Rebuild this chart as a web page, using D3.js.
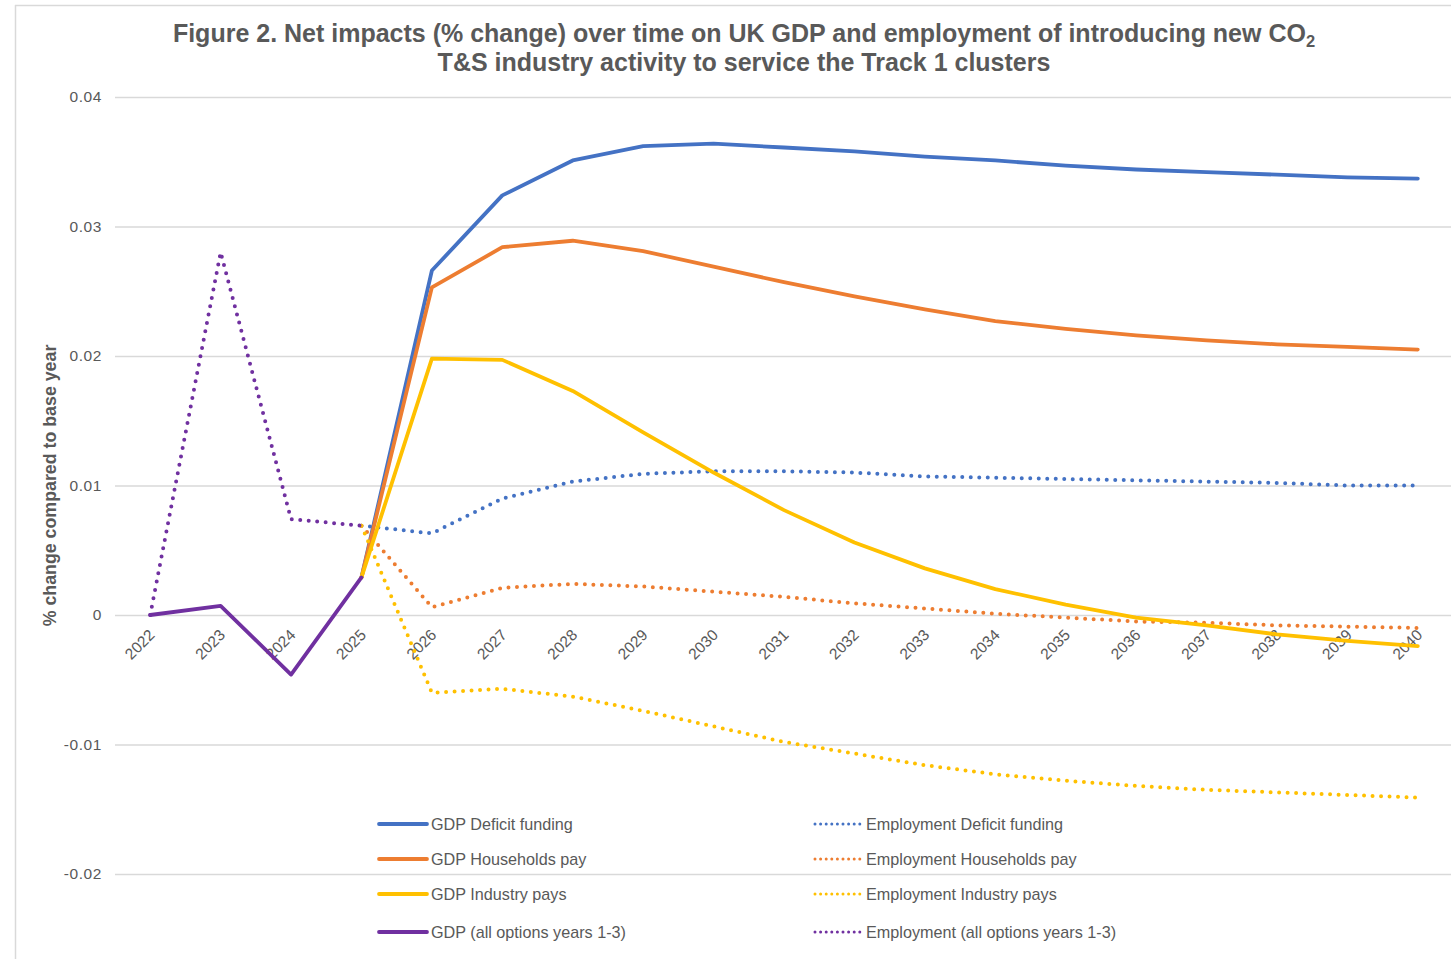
<!DOCTYPE html>
<html>
<head>
<meta charset="utf-8">
<script src="https://cdn.jsdelivr.net/npm/d3@7"></script>
<style>
  html, body { margin: 0; padding: 0; background: #ffffff; }
  svg { display: block; font-family: "Liberation Sans", Arial, sans-serif; }
</style>
</head>
<body>
<svg id="chart" width="1451" height="959"></svg>
<script>
// Years on the category axis
const years = [2022, 2023, 2024, 2025, 2026, 2027, 2028, 2029, 2030, 2031,
               2032, 2033, 2034, 2035, 2036, 2037, 2038, 2039, 2040];

// % change compared to base year, per series (null = no value that year)
const gdpDeficit = [null, null, null, 0.0029, 0.0266, 0.0324, 0.0351, 0.0362, 0.0364, 0.0361,
                    0.0358, 0.0354, 0.0351, 0.0347, 0.0344, 0.0342, 0.0340, 0.0338, 0.0337];
const empDeficit = [null, null, null, 0.0069, 0.0063, 0.0090, 0.0103, 0.0109, 0.0111, 0.0111,
                    0.0110, 0.0107, 0.0106, 0.0105, 0.0104, 0.0103, 0.0102, 0.0100, 0.0100];
const gdpHouseholds = [null, null, null, 0.0029, 0.0253, 0.0284, 0.0289, 0.0281, 0.0269, 0.0257,
                       0.0246, 0.0236, 0.0227, 0.0221, 0.0216, 0.0212, 0.0209, 0.0207, 0.0205];
const empHouseholds = [null, null, null, 0.0069, 0.0006, 0.0021, 0.0024, 0.0022, 0.0018, 0.0014,
                       0.0009, 0.0005, 0.0001, -0.0002, -0.0005, -0.0006, -0.0008, -0.0009, -0.0010];
const gdpIndustry = [null, null, null, 0.0029, 0.0198, 0.0197, 0.0173, 0.0141, 0.0110, 0.0081,
                     0.0056, 0.0036, 0.0020, 0.0008, -0.0002, -0.0008, -0.0015, -0.0020, -0.0024];
const empIndustry = [null, null, null, 0.0069, -0.0060, -0.0057, -0.0063, -0.0074, -0.0086, -0.0098,
                     -0.0107, -0.0116, -0.0123, -0.0128, -0.0132, -0.0135, -0.0137, -0.0139, -0.0141];
const gdpAllOptions = [0, 0.0007, -0.0046, 0.0029, null, null, null, null, null, null,
                       null, null, null, null, null, null, null, null, null];
const empAllOptions = [0, 0.0280, 0.0074, 0.0069, null, null, null, null, null, null,
                       null, null, null, null, null, null, null, null, null];

// Y-axis ticks and their labels
const yTicks = [0.04, 0.03, 0.02, 0.01, 0, -0.01, -0.02];
const yTickLabels = ["0.04", "0.03", "0.02", "0.01", "0", "-0.01", "-0.02"];

const seriesNames = ["GDP Deficit funding", "Employment Deficit funding",
                     "GDP Households pay", "Employment Households pay",
                     "GDP Industry pays", "Employment Industry pays",
                     "GDP (all options years 1-3)", "Employment (all options years 1-3)"];

const BLUE = "#4472C4", ORANGE = "#ED7D31", YELLOW = "#FFC000", PURPLE = "#7030A0";
const TEXT = "#595959", GRID = "#d9d9d9";

const series = [
  { name: seriesNames[0], values: gdpDeficit,    color: BLUE,   dotted: false },
  { name: seriesNames[1], values: empDeficit,    color: BLUE,   dotted: true  },
  { name: seriesNames[2], values: gdpHouseholds, color: ORANGE, dotted: false },
  { name: seriesNames[3], values: empHouseholds, color: ORANGE, dotted: true  },
  { name: seriesNames[4], values: gdpIndustry,   color: YELLOW, dotted: false },
  { name: seriesNames[5], values: empIndustry,   color: YELLOW, dotted: true  },
  { name: seriesNames[6], values: gdpAllOptions, color: PURPLE, dotted: false },
  { name: seriesNames[7], values: empAllOptions, color: PURPLE, dotted: true  }
];

const svg = d3.select("#chart");
const W = 1451, H = 959;

// Chart-area frame
svg.append("line").attr("x1", 15.5).attr("x2", 15.5).attr("y1", 5).attr("y2", H)
  .attr("stroke", GRID).attr("stroke-width", 1.5);
svg.append("line").attr("x1", 15).attr("x2", W).attr("y1", 5.5).attr("y2", 5.5)
  .attr("stroke", GRID).attr("stroke-width", 1.5);

const plot = { left: 115, right: 1453, top: 97, bottom: 874 };

const x = d3.scalePoint().domain(years).range([plot.left, plot.right]).padding(0.5);
const y = d3.scaleLinear().domain([-0.02, 0.04]).range([plot.bottom, plot.top]);

// Title
const title = svg.append("text")
  .attr("text-anchor", "middle")
  .attr("fill", TEXT)
  .attr("font-weight", "bold")
  .attr("font-size", 25);
const t1 = title.append("tspan").attr("x", 744).attr("y", 42)
  .text("Figure 2. Net impacts (% change) over time on UK GDP and employment of introducing new CO");
t1.append("tspan").attr("font-size", 16.5).attr("dy", 5).text("2");
title.append("tspan").attr("x", 744).attr("y", 71)
  .text("T&S industry activity to service the Track 1 clusters");

// Horizontal gridlines and Y tick labels
const yAxis = d3.axisLeft(y)
  .tickValues(yTicks)
  .tickSize(-(W - plot.left))
  .tickPadding(13)
  .tickFormat((d, i) => yTickLabels[i]);
const gy = svg.append("g").attr("transform", `translate(${plot.left},0)`).call(yAxis);
gy.select(".domain").remove();
gy.selectAll(".tick line").attr("stroke", GRID).attr("stroke-width", 1.3);
gy.selectAll(".tick text")
  .attr("fill", TEXT)
  .attr("font-size", 15.5)
  .attr("letter-spacing", 0.6)
  .attr("font-family", "'Liberation Sans', Arial, sans-serif");

// Y-axis title
svg.append("text")
  .attr("transform", `translate(56,${(plot.top + plot.bottom) / 2}) rotate(-90)`)
  .attr("text-anchor", "middle")
  .attr("fill", TEXT)
  .attr("font-weight", "bold")
  .attr("font-size", 17.8)
  .text("% change compared to base year");

// X tick labels, rotated, hanging just below the zero line
const xAxis = d3.axisBottom(x).tickSize(0).tickPadding(0);
const gx = svg.append("g").attr("transform", `translate(0,${y(0)})`).call(xAxis);
gx.select(".domain").remove();
gx.selectAll(".tick text")
  .attr("fill", TEXT)
  .attr("font-size", 15.5)
  .attr("font-family", "'Liberation Sans', Arial, sans-serif")
  .attr("text-anchor", "end")
  .attr("dy", 0)
  .attr("y", 0)
  .attr("transform", "translate(5,21) rotate(-45)");

// Series lines (straight segments between yearly values)
const linePath = d3.line()
  .defined(d => d.v !== null)
  .x(d => x(d.year))
  .y(d => y(d.v));

const gLines = svg.append("g");
series.forEach(s => {
  const pts = years.map((yr, i) => ({ year: yr, v: s.values[i] }));
  const p = gLines.append("path")
    .datum(pts)
    .attr("fill", "none")
    .attr("stroke", s.color)
    .attr("stroke-linejoin", "round")
    .attr("d", linePath);
  if (s.dotted) {
    p.attr("stroke-width", 4)
     .attr("stroke-linecap", "round")
     .attr("stroke-dasharray", "0 8.5");
  } else {
    p.attr("stroke-width", 3.8)
     .attr("stroke-linecap", "round");
  }
});

// Legend: two columns, GDP series on the left, employment series on the right
const legendRows = [824, 859, 894, 932];
const legendCols = [{ x0: 379, x1: 427, tx: 431 }, { x0: 815, x1: 860, tx: 866 }];
const gLegend = svg.append("g");
series.forEach((s, i) => {
  const col = legendCols[i % 2];
  const ry = legendRows[Math.floor(i / 2)];
  const ln = gLegend.append("line")
    .attr("x1", col.x0).attr("x2", col.x1)
    .attr("y1", ry).attr("y2", ry)
    .attr("stroke", s.color);
  if (s.dotted) {
    ln.attr("stroke-width", 3).attr("stroke-linecap", "round").attr("stroke-dasharray", "0 5.6");
  } else {
    ln.attr("stroke-width", 3.8).attr("stroke-linecap", "round");
  }
  gLegend.append("text")
    .attr("x", col.tx).attr("y", ry)
    .attr("dominant-baseline", "central")
    .attr("fill", TEXT)
    .attr("font-size", 16.2)
    .text(s.name);
});
</script>
</body>
</html>
